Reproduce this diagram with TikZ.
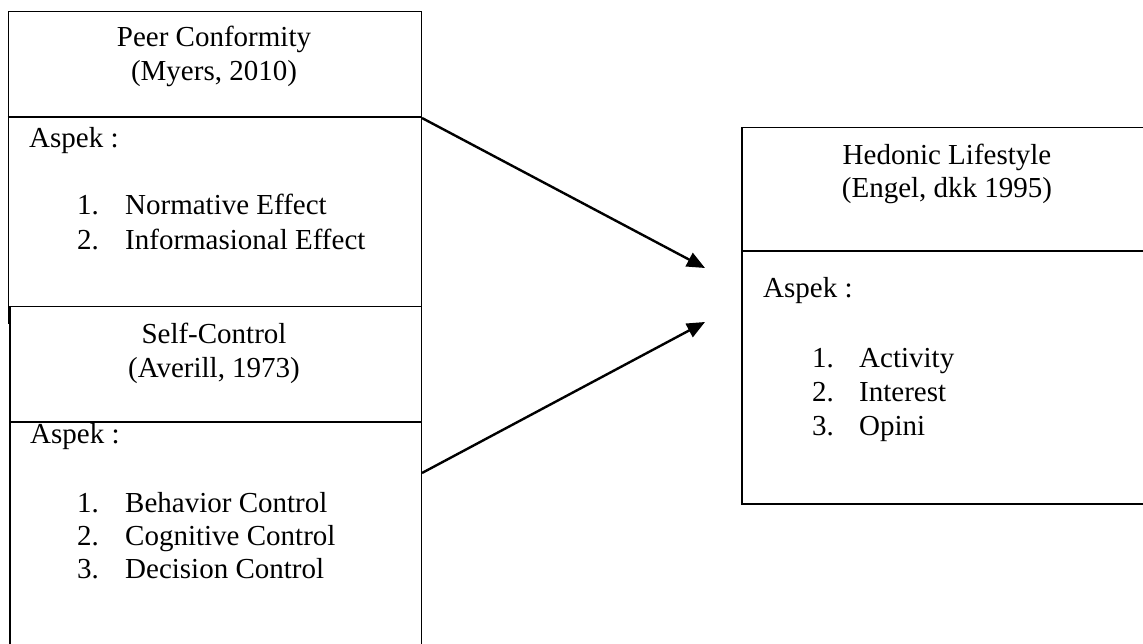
\documentclass[tikz,border=0pt]{standalone}
\usepackage{fontspec}
\setmainfont{Liberation Serif}
\usetikzlibrary{arrows.meta}
\begin{document}
\begin{tikzpicture}[x=1pt,y=-1pt,
  box/.style={draw=black, line width=1.5pt, fill=white, inner sep=0pt, anchor=north west},
  rule/.style={line width=1.5pt},
  txt/.style={font=\fontsize{29}{34}\selectfont, inner sep=0pt},
  link/.style={line width=2.4pt, -{Triangle[length=18pt,width=15pt]}}]
\useasboundingbox (0,0) rectangle (1143,644);
\fill[white] (0,0) rectangle (1143,644);
\begin{scope}
\clip (0,0) rectangle (1143,644);
% Peer Conformity box
\node[box, minimum width=413pt, minimum height=311pt] (peer) at (7.5,11) {};
\draw[rule] (peer.west |- 0,117) -- (peer.east |- 0,117);
\node[txt, anchor=base] (peerT1) at (214,47) {Peer Conformity};
\node[txt, anchor=base] (peerT2) at (214,81) {(Myers, 2010)};
\node[txt, anchor=base west] (peerA) at (29,148) {Aspek :};
\node[txt, anchor=base west] (peerN1) at (77,215) {1.};
\node[txt, anchor=base west] (peerL1) at (125,215) {Normative Effect};
\node[txt, anchor=base west] (peerN2) at (77,250) {2.};
\node[txt, anchor=base west] (peerL2) at (125,250) {Informasional Effect};
% Self-Control box
\node[box, minimum width=411.5pt, minimum height=360pt] (self) at (9,306) {};
\draw[rule] (self.west |- 0,422) -- (self.east |- 0,422);
\node[txt, anchor=base] (selfT1) at (214,343) {Self-Control};
\node[txt, anchor=base] (selfT2) at (214,377) {(Averill, 1973)};
\node[txt, anchor=base west] (selfA) at (30,443) {Aspek :};
\node[txt, anchor=base west] (selfN1) at (77,512) {1.};
\node[txt, anchor=base west] (selfL1) at (125,512) {Behavior Control};
\node[txt, anchor=base west] (selfN2) at (77,545) {2.};
\node[txt, anchor=base west] (selfL2) at (125,545) {Cognitive Control};
\node[txt, anchor=base west] (selfN3) at (77,578) {3.};
\node[txt, anchor=base west] (selfL3) at (125,578) {Decision Control};
% Hedonic Lifestyle box
\node[box, minimum width=430pt, minimum height=376pt] (hed) at (741,127) {};
\draw[rule] (hed.west |- 0,251) -- (hed.east |- 0,251);
\node[txt, anchor=base] (hedT1) at (947,165) {Hedonic Lifestyle};
\node[txt, anchor=base] (hedT2) at (947,198) {(Engel, dkk 1995)};
\node[txt, anchor=base west] (hedA) at (763,298) {Aspek :};
\node[txt, anchor=base west] (hedN1) at (812,367) {1.};
\node[txt, anchor=base west] (hedL1) at (859,367) {Activity};
\node[txt, anchor=base west] (hedN2) at (812,401) {2.};
\node[txt, anchor=base west] (hedL2) at (859,401) {Interest};
\node[txt, anchor=base west] (hedN3) at (812,435) {3.};
\node[txt, anchor=base west] (hedL3) at (859,435) {Opini};
\end{scope}
% connectors
\coordinate (tip1) at (705,268);
\coordinate (tip2) at (705,322);
\draw[link] (peer.east |- 0,118) -- (tip1);
\draw[link] (self.east |- 0,473) -- (tip2);
\end{tikzpicture}
\end{document}
